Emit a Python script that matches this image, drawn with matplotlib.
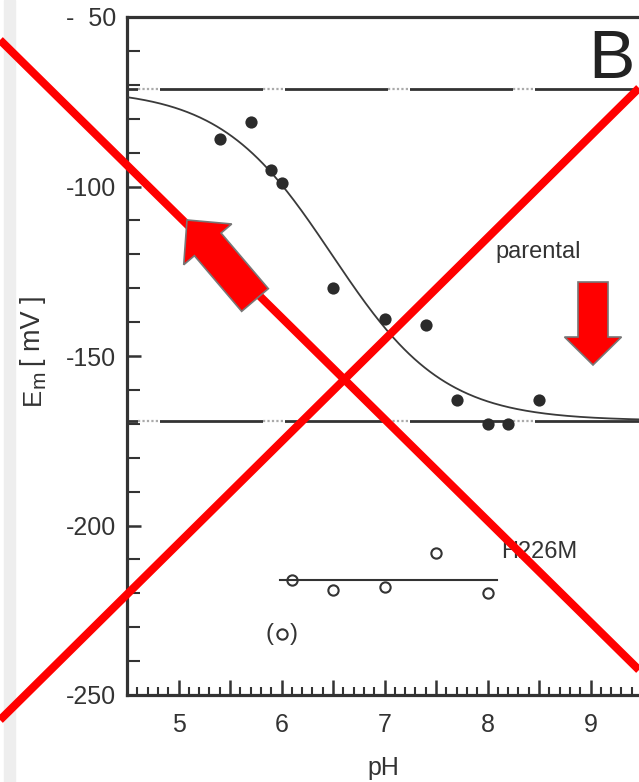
import numpy as np
import matplotlib
matplotlib.use("Agg")
import matplotlib.pyplot as plt
from matplotlib.ticker import MultipleLocator, FixedLocator, FuncFormatter
from matplotlib.patches import Polygon, Rectangle

plt.rcParams['font.family'] = ['Liberation Sans', 'DejaVu Sans']
plt.rcParams['mathtext.default'] = 'regular'

# ---- data ----
ph_parental = [5.4, 5.7, 5.9, 6.0, 6.5, 7.0, 7.4, 7.7, 8.0, 8.2, 8.5]
em_parental = [-86, -81, -95, -99, -130, -139, -141, -163, -170, -170, -163]

ph_h226m = [6.1, 6.5, 7.0, 7.5, 8.0]
em_h226m = [-216, -219, -218, -208, -220]
ph_h226m_paren = [6.0]
em_h226m_paren = [-232]

# fitted titration curve (parental)
fit_top = -71.2
fit_bottom = -169.1
fit_pk = 6.49
fit_n = 0.80

# H226M mean line
h226m_mean = -216
h226m_span = [5.99, 8.09]

x_limits = [4.5, 9.47]
y_limits = [-250, -50]
y_ticks = [-250, -200, -150, -100, -50]
y_ticklabels = ['-250', '-200', '-150', '-100', '-  50']

dark = '#333333'

fig = plt.figure(figsize=(6.39, 7.82), dpi=100)
fig.patch.set_facecolor('white')
W, H = 639, 782
AX_L, AX_R, AX_T, AX_B = 127, 639, 17, 695
ax = fig.add_axes([AX_L / W, 1 - AX_B / H, (AX_R - AX_L) / W, (AX_B - AX_T) / H])

ax.set_xlim(*x_limits)
ax.set_ylim(*y_limits)

# asymptote lines with dotted breaks
gap_starts_px = [138, 263, 388, 513]
gap_w_px = 22
ytr = ax.get_yaxis_transform()
for yv in (fit_top, fit_bottom):
    ax.axhline(yv, color=dark, lw=2.0, zorder=2)
    for g in gap_starts_px:
        x0 = (g - AX_L) / (AX_R - AX_L)
        x1 = (g + gap_w_px - AX_L) / (AX_R - AX_L)
        ax.plot([x0, x1], [yv, yv], color='white', lw=3.0, transform=ytr, zorder=2.1,
                solid_capstyle='butt')
        ax.plot([x0, x1], [yv, yv], color='#aaaaaa', lw=1.6, ls=(0, (1, 1)), transform=ytr,
                zorder=2.2)

# fitted curve
xc = np.linspace(x_limits[0], x_limits[1], 400)
yc = fit_bottom + (fit_top - fit_bottom) / (1 + 10 ** (fit_n * (xc - fit_pk)))
ax.plot(xc, yc, color='#3a3a3a', lw=1.3, zorder=3)

# parental points
ax.plot(ph_parental, em_parental, 'o', color='#2b2b2b', ms=8.8, mew=0, zorder=4)

# H226M
ax.plot(h226m_span, [h226m_mean, h226m_mean], color=dark, lw=1.5, zorder=3)
ax.plot(ph_h226m, em_h226m, 'o', mfc='none', mec=dark, ms=7.4, mew=1.5, zorder=4)
ax.plot(ph_h226m_paren, em_h226m_paren, 'o', mfc='none', mec=dark, ms=7.4, mew=1.5, zorder=4)
for px, py in zip(ph_h226m_paren, em_h226m_paren):
    ax.annotate('(', (px, py), xytext=(-6, 0), textcoords='offset points',
                ha='right', va='center', fontsize=17, color=dark)
    ax.annotate(')', (px, py), xytext=(6, 0), textcoords='offset points',
                ha='left', va='center', fontsize=17, color=dark)

# texts
ax.text(8.08, -121.1, 'parental', fontsize=17, color=dark, ha='left', va='baseline')
ax.text(8.13, -209.7, 'H226M', fontsize=17, color=dark, ha='left', va='baseline')
ax.text(9.43, -68.0, 'B', fontsize=50, color='#222222', ha='right', va='baseline')

# axes styling
for s in ('left', 'bottom', 'top'):
    ax.spines[s].set_linewidth(2.3)
    ax.spines[s].set_color(dark)
ax.spines['right'].set_visible(False)

ax.xaxis.set_major_locator(MultipleLocator(0.5))
ax.xaxis.set_minor_locator(MultipleLocator(0.1))
ax.xaxis.set_major_formatter(FuncFormatter(lambda v, p: f'{int(round(v))}' if abs(v - round(v)) < 1e-6 else ''))
ax.yaxis.set_major_locator(FixedLocator(y_ticks))
ax.set_yticklabels(y_ticklabels)
ax.yaxis.set_minor_locator(MultipleLocator(10))

ax.tick_params(axis='x', which='major', direction='in', length=11, width=1.8, color=dark,
               labelsize=18, labelcolor='#333333', pad=13, top=False)
ax.tick_params(axis='x', which='minor', direction='in', length=6, width=1.5, color=dark, top=False)
ax.tick_params(axis='y', which='major', direction='in', length=10, width=1.8, color=dark,
               labelsize=18, labelcolor='#333333', pad=8, right=False)
ax.tick_params(axis='y', which='minor', direction='in', length=9, width=1.5, color=dark, right=False)

ax.set_xlabel('pH', fontsize=18, color='#333333', labelpad=14)

# ---- overlay (pixel coordinates) ----
ov = fig.add_axes([0, 0, 1, 1], zorder=10)
ov.set_xlim(0, W)
ov.set_ylim(H, 0)
ov.axis('off')
ov.patch.set_alpha(0)

ov.add_patch(Rectangle((4, 0), 11, H, color='#eeeeee', zorder=0))

# y-axis label  E_m [ mV]  (rotated, m as subscript)
lab_kw = dict(rotation=90, rotation_mode='anchor', ha='left', va='baseline', color='#333333')
ov.text(40, 405, 'E', fontsize=18.5, **lab_kw)
ov.text(44.5, 388, 'm', fontsize=15, **lab_kw)
ov.text(40, 366, '[ mV ]', fontsize=19.5, **lab_kw)

red = '#ff0000'
ov.plot([0, 639], [40, 670], color=red, lw=5.8, solid_capstyle='butt', zorder=5)
ov.plot([0, 639], [720, 88], color=red, lw=5.8, solid_capstyle='butt', zorder=5)


def block_arrow(tail, tip, shaft_w, head_w, head_len):
    tail = np.array(tail, float)
    tip = np.array(tip, float)
    d = tip - tail
    L = np.hypot(*d)
    u = d / L
    n = np.array([-u[1], u[0]])
    base = tip - u * head_len
    pts = [tail + n * shaft_w / 2, base + n * shaft_w / 2, base + n * head_w / 2, tip,
           base - n * head_w / 2, base - n * shaft_w / 2, tail - n * shaft_w / 2]
    ov.add_patch(Polygon(pts, closed=True, facecolor=red, edgecolor='#777777', lw=1.2, zorder=6))


block_arrow((255, 300), (187, 220), 35, 63, 32)
block_arrow((593, 282), (593, 365), 30, 57, 28)

fig.savefig('out.png', dpi=100)
